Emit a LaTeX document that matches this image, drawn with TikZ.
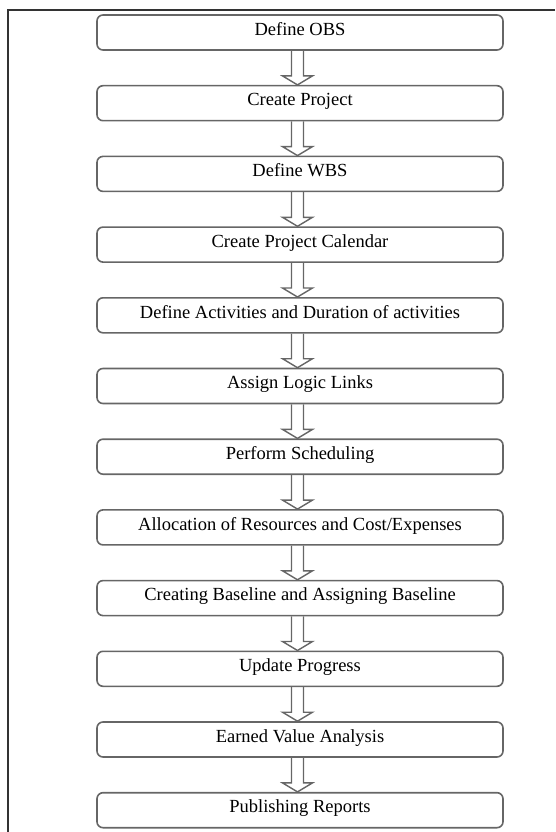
\documentclass[tikz,border=0pt]{standalone}
\usepackage{fontspec}
\setmainfont{Liberation Serif}
\usetikzlibrary{positioning,calc}

\tikzset{
	stepbox/.style={draw=black!60, line width=1.6pt, rounded corners=6pt,
		minimum width=406pt, minimum height=35pt, inner sep=0pt,
		text height=12pt, text depth=6.5pt, font=\fontsize{18.5}{20}\selectfont},
	flowarrow/.style={draw=black!60, line width=1.4pt, line join=miter},
	frameline/.style={draw=black!80, line width=1.8pt}
}

\begin{document}
\begin{tikzpicture}[x=1pt,y=-1pt]
	\useasboundingbox (0,0) rectangle (555,832);
	% frame
	\coordinate (ftop) at (555,10);
	\coordinate (fcorner) at (8,10);
	\coordinate (fbot) at (8,832);
	\draw[frameline] (ftop) -- (fcorner) -- (fbot);
	% steps
	\node[stepbox] (obs) at (300,32.5) {Define OBS};
	\node[stepbox, below=34.1pt of obs] (proj) {Create Project};
	\node[stepbox, below=34.1pt of proj] (wbs) {Define WBS};
	\node[stepbox, below=34.1pt of wbs] (cal) {Create Project Calendar};
	\node[stepbox, below=34.1pt of cal] (act) {Define Activities and Duration of activities};
	\node[stepbox, below=34.1pt of act] (logic) {Assign Logic Links};
	\node[stepbox, below=34.1pt of logic] (sched) {Perform Scheduling};
	\node[stepbox, below=34.1pt of sched] (res) {Allocation of Resources and Cost/Expenses};
	\node[stepbox, below=34.1pt of res] (base) {Creating Baseline and Assigning Baseline};
	\node[stepbox, below=34.1pt of base] (prog) {Update Progress};
	\node[stepbox, below=34.1pt of prog] (eva) {Earned Value Analysis};
	\node[stepbox, below=34.1pt of eva] (rep) {Publishing Reports};
	% hollow arrows
	\foreach \a/\b in {obs/proj, proj/wbs, wbs/cal, cal/act, act/logic, logic/sched,
		sched/res, res/base, base/prog, prog/eva, eva/rep}
	\draw[flowarrow] ($(\a.south)+(-8.5,0)$) -- ($(\b.north)+(-8.5,-9)$)
		-- ($(\b.north)+(-17.5,-9)$) -- ($(\b.north)+(-2.5,0)$)
		-- ($(\b.north)+(12.5,-9)$) -- ($(\b.north)+(3.5,-9)$)
		-- ($(\a.south)+(3.5,0)$);
\end{tikzpicture}
\end{document}
